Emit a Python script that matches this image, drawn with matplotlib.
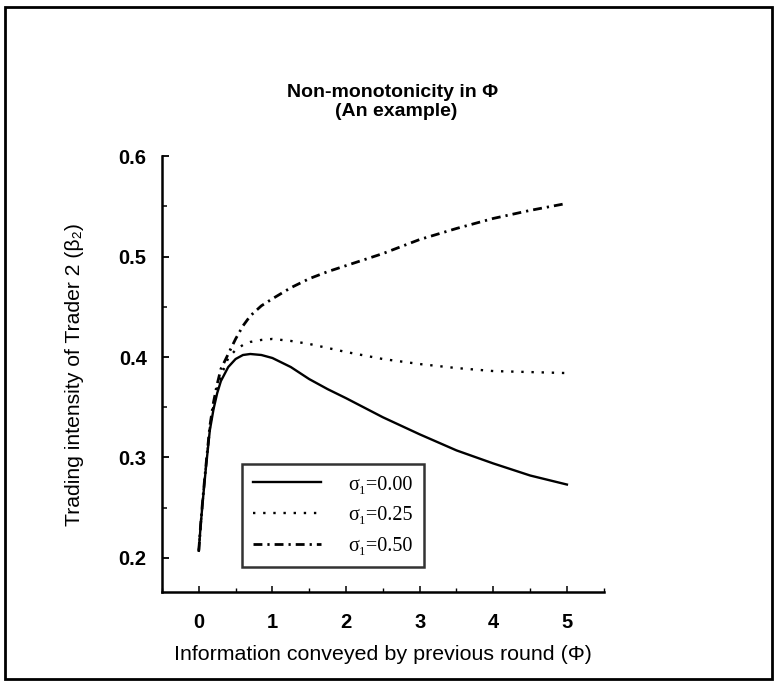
import matplotlib
matplotlib.use("Agg")
import matplotlib.pyplot as plt
import matplotlib.patches as mpatches
from matplotlib.ticker import MultipleLocator

# values
phi = [0.0, 0.025, 0.05, 0.075, 0.1, 0.15, 0.2, 0.25, 0.3, 0.4, 0.5, 0.6, 0.7,
       0.85, 1.0, 1.25, 1.5, 1.75, 2.0, 2.5, 3.0, 3.5, 4.0, 4.5, 5.0]
beta_s000 = [0.207, 0.232, 0.253, 0.273, 0.292, 0.327, 0.348, 0.364, 0.376, 0.390,
             0.398, 0.402, 0.403, 0.402, 0.399, 0.390, 0.378, 0.368, 0.359, 0.340,
             0.323, 0.307, 0.294, 0.282, 0.273]
beta_s025 = [0.207, 0.233, 0.254, 0.274, 0.293, 0.329, 0.351, 0.368, 0.381, 0.399,
             0.407, 0.412, 0.415, 0.417, 0.418, 0.416, 0.413, 0.409, 0.405, 0.398,
             0.393, 0.389, 0.386, 0.385, 0.384]
beta_s050 = [0.207, 0.233, 0.255, 0.275, 0.294, 0.331, 0.355, 0.373, 0.388, 0.403,
             0.418, 0.431, 0.441, 0.451, 0.458, 0.469, 0.478, 0.485, 0.491, 0.503,
             0.517, 0.528, 0.538, 0.546, 0.553]
labels = ["σ₁=0.00", "σ₁=0.25", "σ₁=0.50"]

plt.rcParams['font.family'] = ['Liberation Sans', 'DejaVu Sans']

fig = plt.figure(figsize=(7.75, 6.82), dpi=100)
ax = fig.add_axes([0.209, 0.132, 0.570, 0.639])

ax.plot(phi, beta_s000, color='black', lw=1.7, ls='-', label=labels[0])
ax.plot(phi, beta_s025, color='black', lw=1.7, ls=(0, (1, 3.3)), label=labels[1])
ax.plot(phi, beta_s050, color='black', lw=2.0, ls=(0, (3.2, 1.8, 0.8, 1.8)), label=labels[2])

ax.set_xlim(-0.5, 5.5)
ax.set_ylim(0.166, 0.6)
ax.xaxis.set_major_locator(MultipleLocator(1))
ax.xaxis.set_minor_locator(MultipleLocator(0.5))
ax.yaxis.set_major_locator(MultipleLocator(0.1))
ax.yaxis.set_minor_locator(MultipleLocator(0.05))
ax.set_yticks([0.2, 0.3, 0.4, 0.5, 0.6])
ax.set_yticklabels(["0.2", "0.3", "0.4", "0.5", "0.6"])

for s in ['top', 'right']:
    ax.spines[s].set_visible(False)
for s in ['left', 'bottom']:
    ax.spines[s].set_linewidth(1.8)

ax.tick_params(axis='y', which='major', direction='in', length=5, width=1.3, pad=11, labelsize=14.5)
ax.tick_params(axis='y', which='minor', direction='in', length=3.5, width=1.1)
ax.tick_params(axis='x', which='major', direction='in', length=4, width=1.1, pad=15, labelsize=14.5)
ax.tick_params(axis='x', which='minor', direction='in', length=3, width=1.0)
for t in ax.get_xticklabels() + ax.get_yticklabels():
    t.set_fontweight('bold')

ax.set_xlabel("Information conveyed by previous round (Φ)", fontsize=15.4)
ax.set_ylabel("Trading intensity of Trader 2 (β₂)", fontsize=15.2)
ax.xaxis.set_label_coords(0.5, -0.122)
ax.yaxis.set_label_coords(-0.176, 0.5)

leg = ax.legend(loc='lower left', bbox_to_anchor=(0.181, 0.057), frameon=True,
                fancybox=False, edgecolor='black', handlelength=3.4, handletextpad=1.35,
                labelspacing=0.58, borderpad=0.55, borderaxespad=0,
                prop={'family': ['Liberation Serif', 'DejaVu Serif'], 'size': 14.5})
leg.get_frame().set_linewidth(1.8)

fig.text(0.507, 0.865, "Non-monotonicity in Φ", ha='center', va='center',
         fontsize=14, fontweight='bold')
fig.text(0.511, 0.837, "(An example)", ha='center', va='center',
         fontsize=14, fontweight='bold')

# frame around the whole figure
fig.patches.append(mpatches.Rectangle((5 / 775, 3 / 682), 767 / 775, 672 / 682,
                                      transform=fig.transFigure, fill=False,
                                      edgecolor='black', linewidth=2.0))

fig.savefig("out.png", dpi=100)
